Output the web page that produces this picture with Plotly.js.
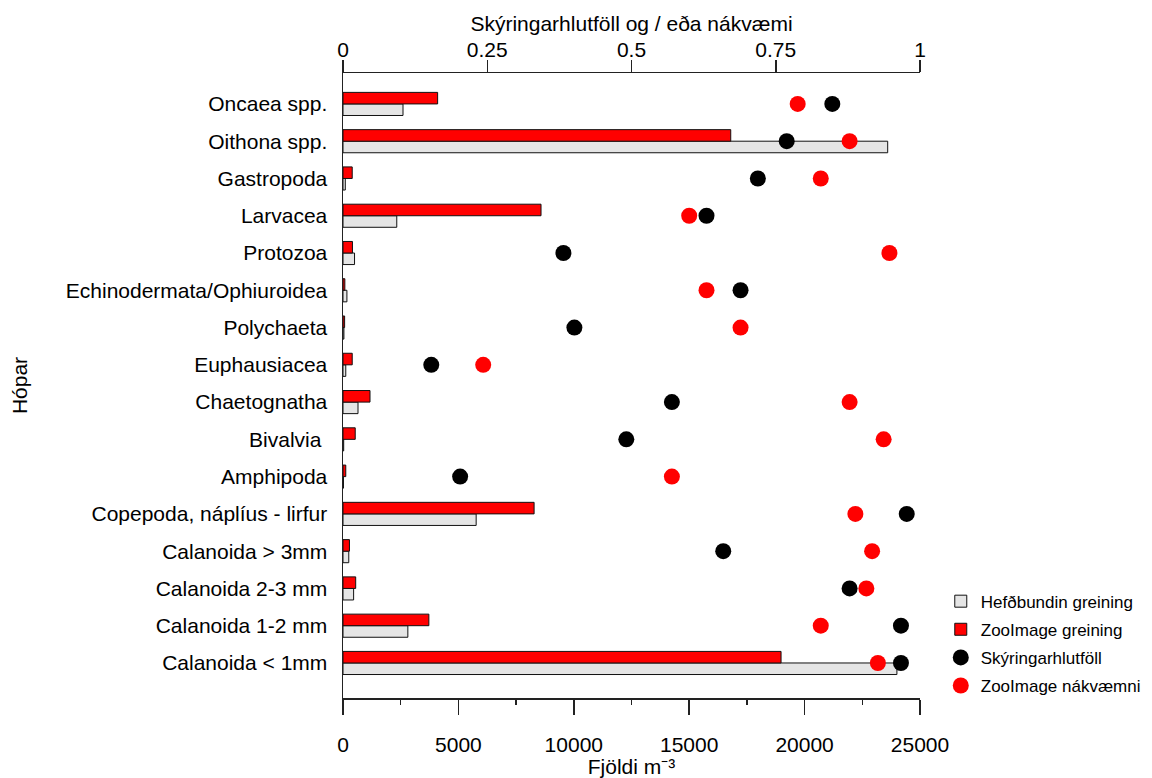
<!DOCTYPE html>
<html>
<head>
<meta charset="utf-8">
<script src="https://cdn.plot.ly/plotly-3.0.1.min.js"></script>
<style>
  html, body { margin: 0; padding: 0; background: #fff; }
  #chart { width: 1152px; height: 778px; }
</style>
</head>
<body>
<div id="chart"></div>
<script>
// Groups, listed from the top of the chart to the bottom
const groups = [
  "Oncaea spp.",
  "Oithona spp.",
  "Gastropoda",
  "Larvacea",
  "Protozoa",
  "Echinodermata/Ophiuroidea",
  "Polychaeta",
  "Euphausiacea",
  "Chaetognatha",
  "Bivalvia ",
  "Amphipoda",
  "Copepoda, náplíus - lirfur",
  "Calanoida > 3mm",
  "Calanoida 2-3 mm",
  "Calanoida 1-2 mm",
  "Calanoida < 1mm"
];

// Abundance (individuals per m^3)
const traditionalCount = [2600, 23600, 100, 2330, 500, 170, 40, 120, 650, 30, 20, 5770, 250, 460, 2810, 24000];
const zooimageCount    = [4100, 16800, 400, 8580, 410, 80, 70, 400, 1170, 530, 120, 8280, 280, 550, 3720, 18980];

// Proportions (0-1)
const explainedShare    = [0.848, 0.769, 0.719, 0.630, 0.382, 0.689, 0.401, 0.153, 0.570, 0.491, 0.203, 0.977, 0.659, 0.878, 0.967, 0.967];
const zooimageAccuracy  = [0.788, 0.878, 0.828, 0.600, 0.947, 0.630, 0.689, 0.243, 0.878, 0.937, 0.570, 0.888, 0.917, 0.907, 0.828, 0.927];

const FONT = "Liberation Sans, Arial, sans-serif";
const INK = "#000000";

const traces = [
  {
    type: "bar", orientation: "h", name: "Hefðbundin greining", legendgroup: "a",
    x: traditionalCount, y: groups, xaxis: "x", yaxis: "y",
    marker: { color: "#e5e5e5", line: { color: "#111", width: 1 } },
    hoverinfo: "x+y"
  },
  {
    type: "bar", orientation: "h", name: "ZooImage greining", legendgroup: "b",
    x: zooimageCount, y: groups, xaxis: "x", yaxis: "y",
    marker: { color: "#ff0000", line: { color: "#111", width: 1 } },
    hoverinfo: "x+y"
  },
  {
    type: "scatter", mode: "markers", name: "Skýringarhlutföll", legendgroup: "c",
    x: explainedShare, y: groups, xaxis: "x2", yaxis: "y",
    marker: { color: "#000000", size: 16, symbol: "circle" },
    cliponaxis: false
  },
  {
    type: "scatter", mode: "markers", name: "ZooImage nákvæmni", legendgroup: "d",
    x: zooimageAccuracy, y: groups, xaxis: "x2", yaxis: "y",
    marker: { color: "#ff0000", size: 16, symbol: "circle" },
    cliponaxis: false
  }
];

const layout = {
  width: 1152, height: 778,
  paper_bgcolor: "#ffffff", plot_bgcolor: "#ffffff",
  font: { family: FONT, size: 21, color: INK },
  margin: { l: 343, r: 232, t: 73, b: 80, pad: 0, autoexpand: false },
  barmode: "group", bargap: 0.38, bargroupgap: 0,
  showlegend: true,
  legend: {
    x: 1.036, xanchor: "left", y: 0.183, yanchor: "top",
    font: { family: FONT, size: 17, color: INK },
    bgcolor: "rgba(0,0,0,0)", itemsizing: "trace", tracegroupgap: 3
  },
  xaxis: {
    range: [0, 25000], side: "bottom", anchor: "y",
    tick0: 0, dtick: 5000, tickformat: "d",
    ticks: "outside", ticklen: 15, tickwidth: 1.5, tickcolor: "#222",
    minor: { dtick: 2500, ticks: "outside", ticklen: 5, tickwidth: 1.5, tickcolor: "#222" },
    showline: true, linecolor: "#222", linewidth: 1.5,
    showgrid: false, zeroline: false,
    ticklabelstandoff: 12,
    tickfont: { family: FONT, size: 21 },
    title: { text: "Fjöldi m⁻³", standoff: 7, font: { family: FONT, size: 21 } }
  },
  xaxis2: {
    overlaying: "x", side: "top", anchor: "y",
    range: [0, 1],
    tickvals: [0, 0.25, 0.5, 0.75, 1], ticktext: ["0", "0.25", "0.5", "0.75", "1"],
    ticks: "outside", ticklen: 12, tickwidth: 1.5, tickcolor: "#222",
    showline: true, linecolor: "#222", linewidth: 1.5,
    showgrid: false, zeroline: false,
    ticklabelstandoff: -6,
    tickfont: { family: FONT, size: 21 },
    title: { text: "Skýringarhlutföll og / eða nákvæmi", standoff: 0, font: { family: FONT, size: 21 } }
  },
  yaxis: {
    type: "category", categoryorder: "array", categoryarray: groups.slice().reverse(),
    range: [-0.94, 15.83],
    showline: true, linecolor: "#222", linewidth: 1.5,
    ticks: "", showgrid: false, zeroline: false,
    ticklabelstandoff: 10,
    tickfont: { family: FONT, size: 21 },
    title: { text: "Hópar", standoff: 32, font: { family: FONT, size: 21 } }
  }
};

Plotly.newPlot("chart", traces, layout, { displayModeBar: false, staticPlot: true });
</script>
</body>
</html>
